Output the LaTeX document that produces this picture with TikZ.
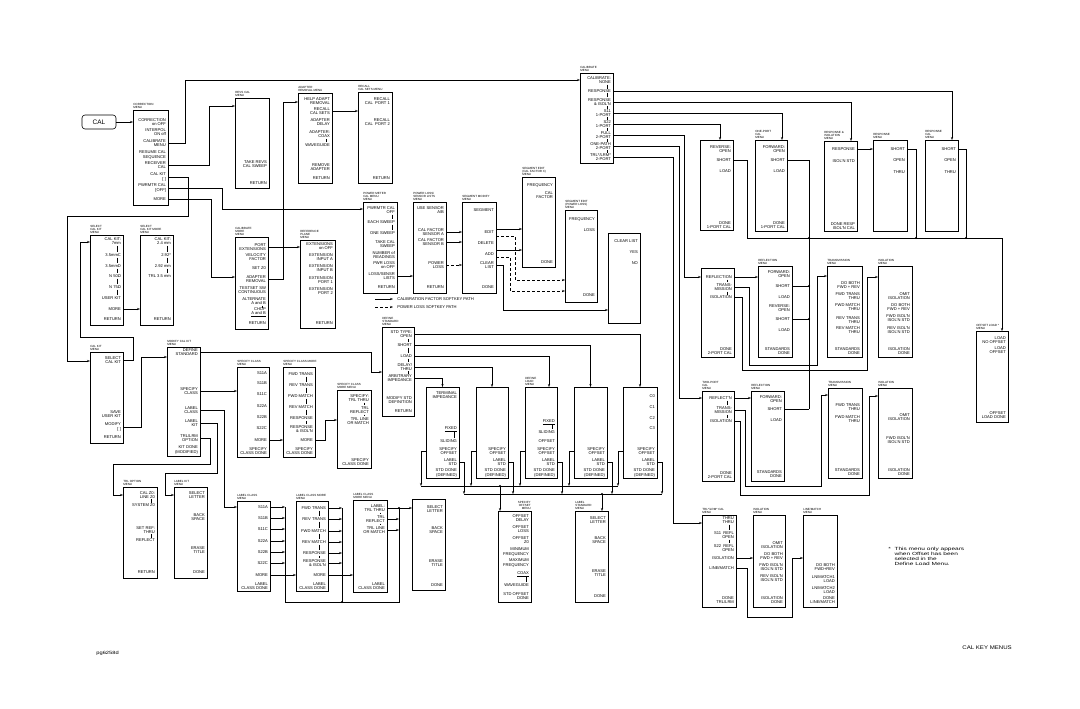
\documentclass[tikz,border=0pt]{standalone}
\usepackage{fontspec}
\setmainfont{Liberation Sans}
\usetikzlibrary{arrows.meta}
\newcounter{itc}
\tikzset{
 box/.style={draw, line width=0.6pt, inner sep=0, outer sep=0},
 item/.style={anchor=east, align=right, inner sep=0, font=\fontsize{4.1}{4.5}\selectfont},
 ttl/.style={anchor=south west, align=left, inner sep=0, font=\fontsize{3}{3.2}\selectfont},
 arr/.style={-{Stealth[length=3pt,width=2.2pt]}},
 dsh/.style={dash pattern=on 3pt off 2pt},
 dot/.style={circle, fill, inner sep=0, minimum size=2.2pt},
 tog/.style={line width=0.4pt},
}
\newcommand\MBox[5]{\node[box, minimum width={#4-#2}, minimum height={#5-#3}, anchor=north west] (#1) at (#2,#3) {};\xdef\bx{#4}\xdef\bl{#2}\xdef\bt{#3}}
\newcommand\MTitle[2]{\node[ttl] (#1) at (\bl,\bt-1) {#2};}
\newcommand\MNamed[3]{\node[item] (#1) at (\bx-1.8,#2) {#3};}
\newcommand\MItem[2]{\stepcounter{itc}\edef\tmpname{it\arabic{itc}}\expandafter\MNamed\expandafter{\tmpname}{#1}{#2}}
\newcommand\Tg[2]{\foreach \ya/\yb in {#2}{\draw[tog] (#1,\ya) -- (#1,\yb);}}
\begin{document}
\begin{tikzpicture}[x=1pt,y=-1pt,line width=0.6pt]
\useasboundingbox (0,0) rectangle (1080,709);
\fill[white] (0,0) rectangle (1080,709);

% ---------- CAL key and correction menu
\node[draw, rounded corners=3pt, minimum width=34, minimum height=14, inner sep=0, font=\fontsize{6.5}{7}\selectfont] (cal) at (99,122) {CAL};
\MBox{corr}{133}{110}{168}{205}\MTitle{tcorr}{CORRECTION\\MENU}
\MItem{122}{CORRECTION\\on OFF}
\MItem{132}{INTERPOL\\ON off}
\MNamed{corrcal}{143}{CALIBRATE\\MENU}
\MItem{155}{RESUME CAL\\SEQUENCE}
\MNamed{corrrec}{165}{RECEIVER\\CAL}
\MNamed{corrkit}{177}{CAL KIT\\{[\,\,]}}
\MNamed{corrpwr}{188}{PWRMTR CAL\\{[OFF]}}
\MNamed{corrmore}{199}{MORE}

\MBox{revs}{235}{98}{269}{188}\MTitle{trevs}{REVS CAL\\MENU}
\MItem{164}{TAKE REVS\\CAL SWEEP}
\MItem{183}{RETURN}

\MBox{adapt}{298}{93}{332}{183}\MTitle{tadapt}{ADAPTER\\REMOVAL MENU}
\MItem{101}{HELP ADAPT\\REMOVAL}
\MNamed{adrec}{111}{RECALL\\CAL SETS}
\MItem{122}{ADAPTER\\DELAY}
\MItem{134}{ADAPTER:\\COAX}
\MItem{145}{WAVEGUIDE}
\MItem{167}{REMOVE\\ADAPTER}
\MItem{178}{RETURN}
\Tg{326}{138.8/142.4}

\MBox{recall}{358}{92}{392}{183}\MTitle{trecall}{RECALL\\CAL SETS MENU}
\MItem{101}{RECALL\\CAL\ \ PORT 1}
\MItem{122}{RECALL\\CAL\ \ PORT 2}
\MItem{178}{RETURN}

\MBox{calm}{235}{237}{268}{329}\MTitle{tcalm}{CALIBRATE\\MORE\\MENU}
\MNamed{calmport}{247}{PORT\\EXTENSIONS}
\MItem{257}{VELOCITY\\FACTOR}
\MItem{268}{SET Z0}
\MNamed{calmad}{279}{ADAPTER\\REMOVAL}
\MItem{290}{TESTSET SW\\CONTINUOUS}
\MItem{301}{ALTERNATE\\A and B}
\MItem{312}{CHOP\\\underline{A and B}}
\MItem{323}{RETURN}
\Tg{262}{305.6/307.6}

\MBox{rp}{300}{240}{335}{328}\MTitle{trp}{REFERENCE\\PLANE\\MENU}
\MItem{246}{EXTENSIONS\\on OFF}
\MItem{257}{EXTENSION\\INPUT A}
\MItem{268}{EXTENSION\\INPUT B}
\MItem{280}{EXTENSION\\PORT 1}
\MItem{291}{EXTENSION\\PORT 2}
\MItem{323}{RETURN}

% ---------- cal kit area
\MBox{sck}{90}{235}{123}{325}\MTitle{tsck}{SELECT\\CAL KIT\\MENU}
\MItem{241}{CAL KIT:\\7mm}
\MItem{255}{3.5mmC}
\MItem{266}{3.5mmD}
\MItem{276}{N 50Ω}
\MItem{287}{N 75Ω}
\MItem{298}{USER KIT}
\MNamed{sckmore}{309}{MORE}
\MItem{319}{RETURN}
\Tg{117}{245.8/252.4,257.6/263.4,268.6/273.4,278.6/284.4,289.6/295.4}

\MBox{sckm}{140}{235}{173}{325}\MTitle{tsckm}{SELECT\\CAL KIT MORE\\MENU}
\MItem{241}{CAL KIT:\\2.4 mm}
\MItem{255}{2.92*}
\MItem{266}{2.92 mm}
\MItem{276}{TRL 3.5 mm}
\MItem{319}{RETURN}
\Tg{167}{245.8/252.4,257.6/263.4,268.6/273.4}

\MBox{ck}{90}{352}{123}{443}\MTitle{tck}{CAL KIT\\MENU}
\MNamed{cksel}{360}{SELECT\\CAL KIT}
\MItem{414}{SAVE\\USER KIT}
\MNamed{ckmod}{427}{MODIFY\\{[\,\,]}}
\MItem{437}{RETURN}

\MBox{mck}{167}{347}{200}{456}\MTitle{tmck}{MODIFY CAL KIT\\MENU}
\MNamed{mckdef}{352}{DEFINE\\STANDARD}
\MNamed{mckspec}{391}{SPECIFY\\CLASS}
\MNamed{mcklc}{410}{LABEL\\CLASS}
\MNamed{mcklk}{423}{LABEL\\KIT}
\MNamed{mcktrl}{438}{TRL/LRM\\OPTION}
\MItem{450}{KIT DONE\\(MODIFIED)}

\MBox{scm}{237}{367}{269}{457}\MTitle{tscm}{SPECIFY CLASS\\MENU}
\MItem{373}{S11A}
\MItem{383}{S11B}
\MItem{394}{S11C}
\MItem{406}{S22A}
\MItem{417}{S22B}
\MItem{428}{S22C}
\MNamed{scmmore}{440}{MORE}
\MItem{451}{SPECIFY\\CLASS DONE}

\MBox{scmm}{283}{367}{315}{457}\MTitle{tscmm}{SPECIFY CLASS MORE\\MENU}
\MItem{374}{FWD TRANS}
\MItem{385}{REV TRANS}
\MItem{396}{FWD MATCH}
\MItem{407}{REV MATCH}
\MItem{418}{RESPONSE}
\MItem{429}{RESPONSE\\\& ISOL'N}
\MNamed{scmmmore}{440}{MORE}
\MItem{451}{SPECIFY\\CLASS DONE}
\Tg{306}{376.6/382.4,387.6/393.4,398.6/404.4,409.6/415.4,420.6/424.2}

\MBox{scmt}{337}{390}{371}{468}\MTitle{tscmt}{SPECIFY CLASS\\MORE MENU}
\MItem{398}{SPECIFY:\\TRL THRU}
\MItem{410}{TRL\\REFLECT}
\MItem{421}{TRL LINE\\OR MATCH}
\MItem{462}{SPECIFY\\CLASS DONE}
\Tg{364}{402.6/405.4,414.6/416.4}

\MBox{trlo}{123}{487}{157}{578}\MTitle{ttrlo}{TRL OPTION\\MENU}
\MItem{495}{CAL Z0:\\LINE Z0}
\MItem{505}{SYSTEM Z0}
\MItem{530}{SET REF:\\THRU}
\MItem{540}{REFLECT}
\MItem{572}{RETURN}
\Tg{151}{499.2/502.6,534.4/537.6}

\MBox{lk}{174}{487}{207}{578}\MTitle{tlk}{LABEL KIT\\MENU}
\MItem{495}{SELECT\\LETTER}
\MItem{517}{BACK\\SPACE}
\MItem{550}{ERASE\\TITLE}
\MItem{572}{DONE}

\MBox{lc}{237}{501}{270}{591}\MTitle{tlc}{LABEL CLASS\\MENU}
\MNamed{lca}{507}{S11A}
\MNamed{lcb}{518}{S11B}
\MNamed{lcc}{529}{S11C}
\MNamed{lcd}{541}{S22A}
\MNamed{lce}{552}{S22B}
\MNamed{lcf}{563}{S22C}
\MNamed{lcmore}{575}{MORE}
\MItem{586}{LABEL\\CLASS DONE}

\MBox{lcm}{296}{501}{328}{591}\MTitle{tlcm}{LABEL CLASS MORE\\MENU}
\MNamed{lma}{508}{FWD TRANS}
\MNamed{lmb}{519}{REV TRANS}
\MNamed{lmc}{531}{FWD MATCH}
\MNamed{lmd}{542}{REV MATCH}
\MNamed{lme}{553}{RESPONSE}
\MNamed{lmf}{563}{RESPONSE\\\& ISOL'N}
\MNamed{lmmore}{575}{MORE}
\MItem{586}{LABEL\\CLASS DONE}
\Tg{319}{510.6/516.4,521.6/528.4,533.6/539.4,544.6/550.4,555.6/558.2}

\MBox{lct}{353}{500}{387}{592}\MTitle{tlct}{LABEL CLASS\\MORE MENU}
\MNamed{lta}{508}{LABEL:\\TRL THRU}
\MNamed{ltb}{519}{TRL\\REFLECT}
\MNamed{ltc}{530}{TRL LINE\\OR MATCH}
\MItem{586}{LABEL\\CLASS DONE}
\Tg{380}{512.6/514.4,523.6/525.4}

\MBox{sl}{412}{499}{445}{590}
\MItem{509}{SELECT\\LETTER}
\MItem{530}{BACK\\SPACE}
\MItem{563}{ERASE\\TITLE}
\MItem{585}{DONE}

% ---------- power meter area
\MBox{pm}{363}{202}{397}{293}\MTitle{tpm}{POWER METER\\CAL MENU\\MENU}
\MItem{210}{PWRMTR CAL\\OFF}
\MItem{222}{EACH SWEEP}
\MItem{233}{ONE SWEEP}
\MItem{244}{TAKE CAL\\SWEEP}
\MItem{255}{NUMBER of\\READINGS}
\MItem{265}{PWR LOSS\\on OFF}
\MNamed{pmloss}{276}{LOSS/SENSR\\LISTS}
\MItem{287}{RETURN}
\Tg{392}{214.6/219.4,224.6/230.4}

\MBox{pl}{413}{202}{446}{293}\MTitle{tpl}{POWER LOSS/\\SENSOR LISTS\\MENU}
\MItem{210}{USE SENSOR\\A/B}
\MNamed{pla}{232}{CAL FACTOR\\SENSOR A}
\MNamed{plb}{242}{CAL FACTOR\\SENSOR B}
\MNamed{plp}{265}{POWER\\LOSS}
\MItem{287}{RETURN}

\MBox{sm}{462}{202}{496}{293}\MTitle{tsm}{SEGMENT MODIFY\\MENU}
\MItem{210}{SEGMENT}
\MNamed{smedit}{232}{EDIT}
\MItem{243}{DELETE}
\MNamed{smadd}{254}{ADD}
\MNamed{smclr}{265}{CLEAR\\LIST}
\MItem{287}{DONE}

\MBox{sec}{522}{177}{555}{267}\MTitle{tsec}{SEGMENT EDIT\\(CAL FACTOR X)\\MENU}
\MItem{185}{FREQUENCY}
\MItem{195}{CAL\\FACTOR}
\MItem{262}{DONE}

\MBox{spl}{565}{210}{597}{302}\MTitle{tspl}{SEGMENT EDIT\\(POWER LOSS)\\MENU}
\MItem{219}{FREQUENCY}
\MItem{230}{LOSS}
\MItem{295}{DONE}

\MBox{clr}{608}{233}{640}{323}
\MItem{241}{CLEAR LIST}
\MItem{252}{YES}
\MItem{263}{NO}

% legend
\coordinate (lga) at (375,299); \coordinate (lgb) at (393,299);
\coordinate (lgc) at (375,307); \coordinate (lgd) at (393,307);
\draw[arr] (lga) -- (lgb);
\draw[arr,dsh] (lgc) -- (lgd);
\node[item, anchor=west] (lgt1) at (397,299) {CALIBRATION FACTOR SOFTKEY PATH};
\node[item, anchor=west] (lgt2) at (397,307) {POWER LOSS SOFTKEY PATH};

% ---------- define standard area
\MBox{ds}{382}{327}{414}{416}\MTitle{tds}{DEFINE\\STANDARD\\MENU}
\MNamed{dsopen}{334}{STD TYPE:\\OPEN}
\MNamed{dsshort}{345}{SHORT}
\MNamed{dsload}{356}{LOAD}
\MNamed{dsdelay}{367}{DELAY/\\THRU}
\MNamed{dsarb}{378}{ARBITRARY\\IMPEDANCE}
\MItem{400}{MODIFY STD\\DEFINITION}
\MItem{411}{RETURN}
\Tg{408}{338.8/342.4,347.6/353.4,358.6/362.2,371.4/373.6}

\MBox{sa}{426}{387}{459}{478}
\MItem{395}{TERMINAL\\IMPEDANCE}
\MItem{429}{\underline{FIXED}}
\MItem{441}{SLIDING}
\MNamed{saspec}{451}{SPECIFY\\OFFSET}
\MNamed{salab}{462}{LABEL\\STD}
\MItem{473}{STD DONE\\(DEFINED)}
\Tg{454}{431.8/438.4}

\MBox{sb}{476}{387}{508}{478}
\MNamed{sbspec}{451}{SPECIFY\\OFFSET}
\MNamed{sblab}{462}{LABEL\\STD}
\MItem{473}{STD DONE\\(DEFINED)}

\MBox{sc}{525}{387}{557}{478}\MTitle{tsc}{DEFINE\\LOAD\\MENU}
\MItem{422}{\underline{FIXED}}
\MItem{432}{SLIDING}
\MItem{441}{OFFSET}
\MNamed{scspec}{451}{SPECIFY\\OFFSET}
\MNamed{sclab}{462}{LABEL\\STD}
\MItem{473}{STD DONE\\(DEFINED)}
\Tg{552}{424.8/429.4}

\MBox{sd}{574}{387}{607}{478}
\MNamed{sdspec}{451}{SPECIFY\\OFFSET}
\MNamed{sdlab}{462}{LABEL\\STD}
\MItem{473}{STD DONE\\(DEFINED)}

\MBox{se}{623}{387}{657}{478}
\MItem{396}{C0}
\MItem{407}{C1}
\MItem{418}{C2}
\MItem{428}{C3}
\MNamed{sespec}{451}{SPECIFY\\OFFSET}
\MNamed{selab}{462}{LABEL\\STD}
\MItem{473}{STD DONE\\(DEFINED)}

\MBox{so}{498}{511}{531}{602}
\node[ttl, anchor=south east, align=right] (tso) at (531,510) {SPECIFY\\OFFSET\\MENU};
\MItem{518}{OFFSET\\DELAY}
\MItem{529}{OFFSET\\LOSS}
\MItem{540}{OFFSET\\Z0}
\MItem{552}{MINIMUM\\FREQUENCY}
\MItem{563}{MAXIMUM\\FREQUENCY}
\MItem{574}{\underline{COAX}}
\MItem{585}{WAVEGUIDE}
\MItem{596}{STD OFFSET\\DONE}
\Tg{526}{576.8/582.4}

\MBox{ls}{575}{511}{608}{602}\MTitle{tls}{LABEL\\STANDARD\\MENU}
\MItem{520}{SELECT\\LETTER}
\MItem{540}{BACK\\SPACE}
\MItem{573}{ERASE\\TITLE}
\MItem{596}{DONE}

% ---------- calibrate menu and right side
\MBox{calib}{580}{73}{613}{163}\MTitle{tcalib}{CALIBRATE\\MENU}
\MItem{80}{CALIBRATE:\\NONE}
\MNamed{cresp}{91}{RESPONSE}
\MNamed{crespi}{102}{RESPONSE\\\& ISOL'N}
\MNamed{cs11}{113}{S11\\1-PORT}
\MNamed{cs22}{124}{S22\\1-PORT}
\MNamed{cfull}{135}{FULL\\2-PORT}
\MNamed{cone}{146}{ONE-PATH\\2-PORT}
\MNamed{ctrl}{157}{TRL*/LRM*\\2-PORT}
\Tg{607}{84.6/88.6,93.4/97.4,106.4/108.6,117.4/119.6,128.4/130.6,139.4/141.6,150.4/152.6}

\MBox{rev}{700}{140}{733}{230}
\MItem{149}{REVERSE:\\OPEN}
\MNamed{revshort}{160}{SHORT}
\MItem{171}{LOAD}
\MItem{225}{DONE\\1-PORT CAL}

\MBox{onep}{755}{140}{787}{231}\MTitle{tonep}{ONE-PORT\\CAL\\MENU}
\MItem{149}{FORWARD:\\OPEN}
\MNamed{opshort}{160}{SHORT}
\MItem{171}{LOAD}
\MItem{225}{DONE\\1-PORT CAL}

\MBox{ri}{824}{141}{857}{231}\MTitle{tri}{RESPONSE \&\\ISOLATION\\MENU}
\MNamed{riresp}{149}{RESPONSE}
\MItem{161}{ISOL'N STD}
\MItem{226}{DONE RESP\\ISOL'N CAL}

\MBox{resp}{873}{140}{907}{231}\MTitle{tresp}{RESPONSE\\MENU}
\MNamed{rshort}{149}{SHORT}
\MItem{160}{OPEN}
\MItem{172}{THRU}

\MBox{rcal}{925}{140}{958}{231}\MTitle{trcal}{RESPONSE\\CAL\\MENU}
\MNamed{rcshort}{149}{SHORT}
\MItem{160}{OPEN}
\MItem{172}{THRU}

\MBox{offl}{976}{331}{1008}{422}\MTitle{toffl}{OFFSET LOAD *\\MENU}
\MItem{340}{LOAD\\NO OFFSET}
\MItem{350}{LOAD\\OFFSET}
\MItem{415}{OFFSET\\LOAD DONE}

\MBox{full}{701}{268}{734}{357}
\MNamed{fref}{277}{REFLECTION}
\MNamed{ftrans}{287}{TRANS-\\MISSION}
\MNamed{fiso}{297}{ISOLATION}
\MItem{351}{DONE\\2-PORT CAL}
\Tg{727}{279.6/282.4,291.6/294.6}

\MBox{frefl}{758}{266}{792}{357}\MTitle{tfrefl}{REFLECTION\\MENU}
\MItem{274}{FORWARD:\\OPEN}
\MNamed{frsa}{286}{SHORT}
\MItem{297}{LOAD}
\MItem{308}{REVERSE:\\OPEN}
\MNamed{frsb}{319}{SHORT}
\MItem{330}{LOAD}
\MItem{351}{STANDARDS\\DONE}

\MBox{ftr}{827}{266}{862}{357}\MTitle{tftr}{TRANSMISSION\\MENU}
\MItem{285}{DO BOTH\\FWD + REV}
\MItem{296}{FWD TRANS\\THRU}
\MItem{307}{FWD MATCH\\THRU}
\MItem{320}{REV TRANS\\THRU}
\MItem{330}{REV MATCH\\THRU}
\MItem{351}{STANDARDS\\DONE}

\MBox{fis}{878}{266}{912}{357}\MTitle{tfis}{ISOLATION\\MENU}
\MItem{296}{OMIT\\ISOLATION}
\MItem{307}{DO BOTH\\FWD + REV}
\MItem{318}{FWD ISOL'N\\ISOL'N STD}
\MItem{330}{REV ISOL'N\\ISOL'N STD}
\MItem{351}{ISOLATION\\DONE}

\MBox{two}{702}{391}{734}{481}\MTitle{ttwo}{TWO-PORT\\CAL\\MENU}
\MNamed{tref}{398}{REFLECT'N}
\MNamed{ttrans}{410}{TRANS-\\MISSION}
\MNamed{tiso}{421}{ISOLATION}
\MItem{475}{DONE\\2-PORT CAL}
\Tg{727}{400.6/405.2,414.8/418.4}

\MBox{trefl}{751}{391}{784}{481}\MTitle{ttrefl}{REFLECTION\\MENU}
\MItem{399}{FORWARD:\\OPEN}
\MNamed{trs}{409}{SHORT}
\MItem{420}{LOAD}
\MItem{474}{STANDARDS\\DONE}

\MBox{ttr}{828}{388}{862}{478}\MTitle{tttr}{TRANSMISSION\\MENU}
\MItem{407}{FWD TRANS\\THRU}
\MItem{419}{FWD MATCH\\THRU}
\MItem{472}{STANDARDS\\DONE}

\MBox{tis}{878}{388}{912}{478}\MTitle{ttis}{ISOLATION\\MENU}
\MItem{417}{OMIT\\ISOLATION}
\MItem{440}{FWD ISOL'N\\ISOL'N STD}
\MItem{472}{ISOLATION\\DONE}

\MBox{trl}{702}{515}{736}{607}\MTitle{ttrl}{TRL*/LRM* CAL\\MENU}
\MItem{520}{THRU\\THRU}
\MItem{535}{S11\ \ REFL\\OPEN}
\MItem{548}{S22\ \ REFL\\OPEN}
\MNamed{trliso}{558}{ISOLATION}
\MNamed{trllm}{568}{LINE/MATCH}
\MItem{600}{DONE\\TRL/LRM}
\Tg{729}{524.6/530.4,539.6/543.4}

\MBox{liso}{753}{515}{785}{607}\MTitle{tliso}{ISOLATION\\MENU}
\MItem{545}{OMIT\\ISOLATION}
\MItem{556}{DO BOTH\\FWD + REV}
\MItem{567}{FWD ISOL'N\\ISOL'N STD}
\MItem{578}{REV ISOL'N\\ISOL'N STD}
\MItem{600}{ISOLATION\\DONE}

\MBox{lm}{803}{515}{837}{607}\MTitle{tlm}{LINE/MATCH\\MENU}
\MItem{567}{DO BOTH\\FWD+REV}
\MItem{579}{LN/MATCH1\\LOAD}
\MItem{590}{LN/MATCH2\\LOAD}
\MItem{600}{DONE\\LINE/MATCH}

% ---------- free texts
\node[anchor=north west, align=left, inner sep=0, font=\fontsize{4.5}{4.9}\selectfont, xscale=1.45, transform shape] (fn) at (888,547) {*\ \ This menu only appears\\\phantom{*\ \ }when Offset has been\\\phantom{*\ \ }selected in the\\\phantom{*\ \ }Define Load Menu.};
\node[anchor=west, inner sep=0, font=\fontsize{5.3}{6}\selectfont, xscale=1.15, transform shape] (ckmn) at (962,648) {CAL KEY MENUS};
\node[anchor=west, inner sep=0, font=\fontsize{4.6}{5}\selectfont, xscale=1.25, transform shape] (pg) at (96,653) {pg6258d};

% ---------- connectors: left
\draw[arr] (cal.east) -- (cal.east -| corr.west);
\draw[arr] (corrcal -| corr.east) -| (185,80) -- (calib.west |- 0,80);
\draw[arr] (corrrec -| corr.east) -| (209,106) -- (revs.west |- 0,106);
\draw[arr] (corrkit -| corr.east) -| (188,216) -| (67,361) -- (ck.west |- 0,361);
\draw[arr] (corrpwr -| corr.east) -| (222,209) -- (pm.west |- 0,209);
\draw[arr] (corrmore -| corr.east) -| (211,277) -- (calm.west |- 0,277);
\draw[arr] (adrec -| adapt.east) -- (recall.west |- adrec);
\draw[arr] (calmport -| calm.east) -- (rp.west |- calmport);
\draw[arr] (calmad -| calm.east) -| (283,102) -- (adapt.west |- 0,102);
\draw[arr] (sckmore -| sck.east) -- (sckm.west |- sckmore);
\draw[arr] (cksel -| ck.east) -| (133,337) -| (80,242) -- (sck.west |- 0,242);
\draw[arr] (ckmod -| ck.east) -| (141,357) -- (mck.west |- 0,357);
\draw[arr] (mckdef -| mck.east) -| (371,372) -- (ds.west |- 0,372);
\draw[arr] (mckspec -| mck.east) -- (scm.west |- mckspec);
\draw[arr] (mcklc -| mck.east) -| (224,507) -- (lc.west |- 0,507);
\draw[arr] (mcklk -| mck.east) -| (217,473) -| (165,495) -- (lk.west |- 0,495);
\draw[arr] (mcktrl -| mck.east) -| (210,464) -| (113,495) -- (trlo.west |- 0,495);
\draw[arr] (scmmore -| scm.east) -- (scmm.west |- scmmore);
\draw[arr] (scmmmore -| scmm.east) -| (325,420) -- (scmt.west |- 0,420);

\coordinate (lcbus) at (285,0);
\coordinate (lmbus) at (342,0);
\coordinate (ltbus) at (399,0);
\foreach \n in {lca,lcb,lcc,lcd,lce,lcf}{\draw[arr] (\n -| lc.east) -- (\n -| lcbus);}
\foreach \n in {lma,lmb,lmc,lmd,lme,lmf}{\draw[arr] (\n -| lcm.east) -- (\n -| lmbus);}
\foreach \n in {ltb,ltc}{\draw[arr] (\n -| lct.east) -- (\n -| ltbus);}
\draw[arr] (lcmore -| lc.east) -- (lcm.west |- lcmore);
\draw[arr] (lmmore -| lcm.east) -- (lct.west |- lmmore);
\draw[arr] (lta -| lct.east) -- (sl.west |- lta);
\draw (lca -| lcbus) |- (399,602) -- (lta -| ltbus);
\draw (lma -| lmbus) -- (342,602);
\node[dot] (dl1) at (342,602) {};
\node[dot] (dl2) at (lta -| ltbus) {};

% ---------- connectors: power meter
\draw[arr] (pmloss -| pm.east) -- (pl.west |- pmloss);
\draw[arr] (pla -| pl.east) -- (sm.west |- pla);
\draw[arr] (plb -| pl.east) -- (sm.west |- plb);
\draw[arr,dsh] (plp -| pl.east) -- (sm.west |- plp);
\draw[arr] (sm.east |- 0,229) -- (sec.west |- 0,229);
\draw[arr] (sm.east |- 0,250) -- (sec.west |- 0,250);
\draw[arr,dsh] (sm.east |- 0,236) -| (515,280) -- (spl.west |- 0,280);
\draw[arr,dsh] (sm.east |- 0,257) -| (510,291) -- (spl.west |- 0,291);
\draw[arr] (smclr -| sm.east) -| (503,310) -- (clr.west |- 0,310);

% ---------- connectors: define standard
\draw[arr] (dsopen -| ds.east) -| (se.north);
\draw[arr] (dsshort -| ds.east) -| (sd.north);
\draw[arr] (dsload -| ds.east) -| ([xshift=8pt]sc.north);
\draw[arr] (dsdelay -| ds.east) -| (sb.north);
\draw[arr] (dsarb -| ds.east) -| (sa.north);
\draw[arr] (saspec -| sa.west) -| (421,486);
\draw[arr] (sbspec -| sb.west) -| (471,486);
\draw[arr] (scspec -| sc.west) -| (520,486);
\draw[arr] (sdspec -| sd.west) -| (569,486);
\draw[arr] (sespec -| se.west) -| (618,486);
\draw (421,486) -- (618,486);
\draw[arr] (salab -| sa.east) -| (464,494);
\draw[arr] (sblab -| sb.east) -| (513,494);
\draw[arr] (sclab -| sc.east) -| (562,494);
\draw[arr] (sdlab -| sd.east) -| (612,494);
\draw[arr] (selab -| se.east) -| (662,494);
\draw (464,494) -- (662,494);
\node[dot] (db1) at (500,486) {};
\node[dot] (db2) at (602,494) {};
\draw[arr] (db1) -- (db1 |- so.north);
\draw[arr] (db2) -- (db2 |- ls.north);

% ---------- connectors: right
\draw[arr] (cresp -| calib.east) -| ([xshift=10.5pt]rcal.north);
\draw[arr] (crespi -| calib.east) -| ([xshift=10.5pt]ri.north);
\draw[arr] (cs11 -| calib.east) -| ([xshift=11pt]onep.north);
\draw[arr] (cs22 -| calib.east) -| ([xshift=3.5pt]rev.north);
\draw[arr] (cfull -| calib.east) -| (684,277) -- (fref -| full.west);
\draw[arr] (cone -| calib.east) -| (679,398) -- (tref -| two.west);
\draw[arr] (ctrl -| calib.east) -| (673,523) -- (trl.west |- 0,523);

\coordinate (sbus) at (809,0);
\draw[arr] (revshort -| rev.east) -| (747,238) -| ([xshift=10pt]offl.north);
\draw (opshort -| onep.east) -| (trs -| sbus);
\draw (trs -| trefl.east) -- (trs -| sbus);
\draw (frsa -| frefl.east) -- (frsa -| sbus);
\draw (frsb -| frefl.east) -- (frsb -| sbus);
\draw (rshort -| resp.east) -| (916,238);
\draw (rcshort -| rcal.east) -| (966,238);
\node[dot] (j1) at (809,238) {};
\node[dot] (j2) at (916,238) {};
\node[dot] (j3) at (966,238) {};
\node[dot] (j4) at (frsa -| sbus) {};
\node[dot] (j5) at (frsb -| sbus) {};
\draw[arr] (riresp -| ri.east) -- (resp.west |- riresp);
\draw[arr] (fref -| full.east) -- (frefl.west |- fref);
\draw[arr] (ftrans -| full.east) -| (749,365) -| (817,276) -- (ftr.west |- 0,276);
\draw[arr] (fiso -| full.east) -| (742,370) -| (867,277) -- (fis.west |- 0,277);
\draw[arr] (tref -| two.east) -- (trefl.west |- tref);
\draw[arr] (ttrans -| two.east) -| (745,486) -| (821,395) -- (ttr.west |- 0,395);
\draw[arr] (tiso -| two.east) -| (740,495) -| (869,396) -- (tis.west |- 0,396);
\draw[arr] (trliso -| trl.east) -- (liso.west |- trliso);
\draw[arr] (trllm -| trl.east) -| (747,617) -| (792,558) -- (lm.west |- 0,558);
\end{tikzpicture}
\end{document}
